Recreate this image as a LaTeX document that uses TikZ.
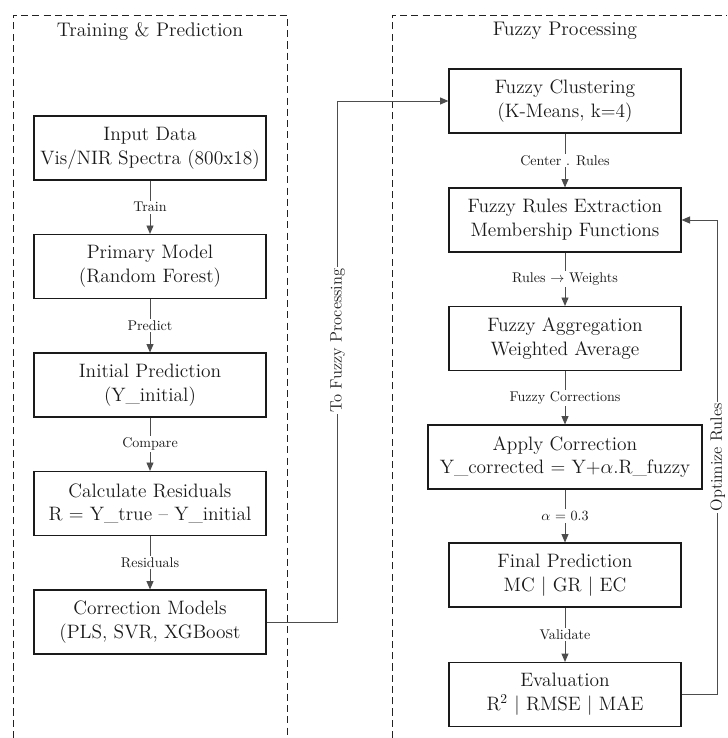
\documentclass[tikz,border=0pt]{standalone}
\usepackage{fontspec}
\usetikzlibrary{positioning,arrows.meta,calc}
\definecolor{paper}{HTML}{FFFFFF}
\definecolor{ink}{HTML}{1A1A1A}
\definecolor{wire}{HTML}{4D4D4D}
\definecolor{frameInk}{HTML}{222222}
\begin{document}
\begin{tikzpicture}[x=0.25mm, y=-0.25mm, text=ink,
    box/.style={draw=ink, line width=0.8pt, fill=white, minimum width=58mm, minimum height=16mm,
                align=center, font=\fontsize{13.8}{17}\selectfont},
    wide/.style={box, minimum width=68.5mm},
    title/.style={font=\fontsize{14}{16}\selectfont},
    lbl/.style={fill=white, inner sep=1.2pt, font=\fontsize{10}{12}\selectfont},
    side/.style={lbl, rotate=90, font=\fontsize{11.7}{13}\selectfont},
    frame/.style={draw=frameInk, line width=0.7pt, dash pattern=on 5pt off 3pt},
    flow/.style={-{Triangle[length=6pt,width=5pt]}, line width=0.7pt, draw=wire}]

  % canvas
  \fill[paper] (0,0) rectangle (727,738);
  \useasboundingbox (0,0) rectangle (727,738);

  % ---------------- group frames (open at the bottom)
  \draw[frame] (13,738) -- (13,15) -- (287,15) -- (287,738);
  \draw[frame] (392,738) -- (392,15) -- (727,15);
  \node[title] (tTrain) at (150,31) {Training \& Prediction};
  \node[title] (tFuzzy) at (565,31) {Fuzzy Processing};

  % ---------------- training column
  \foreach \name/\i/\lab in {in/0/{Input Data\\Vis/NIR Spectra (800x18)},
                             pm/1/{Primary Model\\(Random Forest)},
                             ip/2/{Initial Prediction\\(Y\_initial)},
                             cr/3/{Calculate Residuals\\R = Y\_true -- Y\_initial},
                             cm/4/{Correction Models\\(PLS, SVR, XGBoost}} {
    \node[box] (\name) at (150,148+118.5*\i) {\lab};
  }
  \foreach \a/\b/\lab in {in/pm/Train, pm/ip/Predict, ip/cr/Compare, cr/cm/Residuals} {
    \draw[flow] (\a) -- node[lbl] {\lab} (\b);
  }

  % ---------------- fuzzy column
  \node[box] (fc) at (565,101) {Fuzzy Clustering\\(K-Means, k=4)};
  \node[box] (fr) at (565,220) {Fuzzy Rules Extraction\\Membership Functions};
  \node[box] (fa) at (565,338.5) {Fuzzy Aggregation\\Weighted Average};
  \node[wide] (ac) at (565,457) {Apply Correction\\Y\_corrected = Y+$\alpha$.R\_fuzzy};
  \node[box] (fp) at (565,575) {Final Prediction\\MC | GR | EC};
  \node[box] (ev) at (565,694.5) {Evaluation\\R\textsuperscript{2} | RMSE | MAE};
  \foreach \a/\b/\lab in {fc/fr/{Center . Rules}, fr/fa/{Rules $\rightarrow$ Weights},
                          fa/ac/{Fuzzy Corrections}, ac/fp/{$\alpha$ = 0.3}, fp/ev/Validate} {
    \draw[flow] (\a) -- node[lbl] {\lab} (\b);
  }

  % ---------------- links between and back
  \draw[flow] (cm.east) -- ++(71,0) |- node[side, pos=0.27] {To Fuzzy Processing} (fc.west);
  \draw[flow] (ev.east) -- ++(36,0) |- node[side, pos=0.25] {Optimize Rules} (fr.east);
\end{tikzpicture}
\end{document}
